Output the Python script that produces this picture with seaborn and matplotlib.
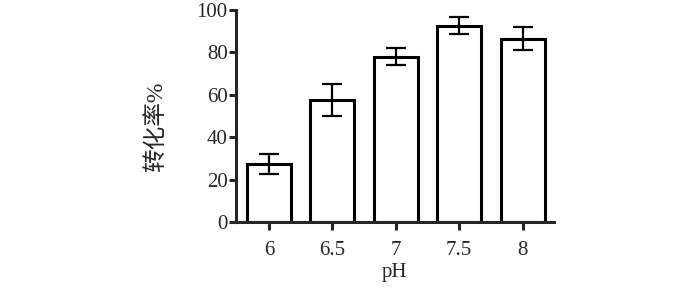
import matplotlib
matplotlib.use('Agg')

import matplotlib.pyplot as plt
import seaborn as sns
import pandas as pd

# data
ph_labels = ['6', '6.5', '7', '7.5', '8']
conversion = [27.5, 57.5, 78.0, 92.5, 86.5]
conversion_err = [4.8, 7.7, 4.2, 4.0, 5.3]

df = pd.DataFrame({'pH': ph_labels, 'conv': conversion})

sns.set_style('ticks')
plt.rcParams['font.family'] = ['Liberation Serif', 'Noto Sans CJK SC']

fig = plt.figure(figsize=(7, 2.91), dpi=100)
ax = fig.add_axes([0.337, 0.237, 0.454, 0.729])

sns.barplot(data=df, x='pH', y='conv', color='white', edgecolor='black',
            linewidth=2.2, width=0.69, errorbar=None, ax=ax)
ax.errorbar(range(len(ph_labels)), conversion, yerr=conversion_err, fmt='none',
            ecolor='black', elinewidth=1.6, capsize=7, capthick=1.6, zorder=5)

ax.set_ylim(0, 100)
ax.set_xlim(-0.52, 4.49)
ax.set_yticks([0, 20, 40, 60, 80, 100])
sns.despine(ax=ax)
for s in ['left', 'bottom']:
    ax.spines[s].set_linewidth(2.2)
ax.tick_params(width=2.2, length=5, labelsize=15)
ax.tick_params(axis='y', pad=1)
ax.tick_params(axis='x', length=6, pad=8)

ax.set_xlabel('pH', fontsize=15, labelpad=2)
ax.set_ylabel('转化率%', fontsize=17)
ax.yaxis.set_label_coords(-0.215, 0.45)

plt.savefig('out.png', dpi=100)
